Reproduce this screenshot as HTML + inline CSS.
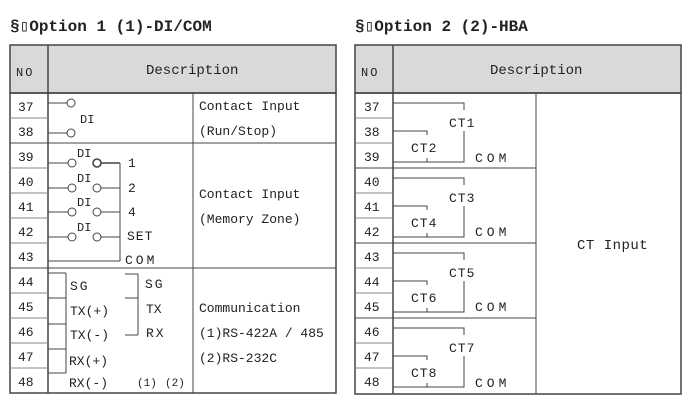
<!DOCTYPE html>
<html><head><meta charset="utf-8"><style>
html,body{margin:0;padding:0;background:#fff;}
svg{display:block;}
text{font-family:"Liberation Mono",monospace;fill:#222;}
</style></head><body>
<svg width="690" height="401" viewBox="0 0 690 401" xmlns="http://www.w3.org/2000/svg">
<g font-family="Liberation Mono" >
<text x="10" y="31" font-size="16" font-weight="bold" font-family="Liberation Mono">§▯Option 1 (1)-DI/COM</text>
<text x="355" y="31" font-size="16" font-weight="bold" font-family="Liberation Mono">§▯Option 2 (2)-HBA</text>
</g>
<!-- LEFT TABLE -->
<g stroke="#444" fill="none">
<rect x="10" y="45" width="326" height="48" fill="#d9d9d9" stroke-width="1.5"/>
<rect x="10" y="93" width="326" height="300" stroke-width="1.5"/>
<line x1="48" y1="45" x2="48" y2="393" stroke-width="1.5"/>
<line x1="193" y1="93" x2="193" y2="393"/>
<line x1="10" y1="143" x2="336" y2="143"/>
<line x1="10" y1="268" x2="336" y2="268"/>
<g stroke="#888">
<line x1="10" y1="118" x2="48" y2="118"/><line x1="10" y1="168" x2="48" y2="168"/>
<line x1="10" y1="193" x2="48" y2="193"/><line x1="10" y1="218" x2="48" y2="218"/>
<line x1="10" y1="243" x2="48" y2="243"/><line x1="10" y1="293" x2="48" y2="293"/>
<line x1="10" y1="318" x2="48" y2="318"/><line x1="10" y1="343" x2="48" y2="343"/>
<line x1="10" y1="368" x2="48" y2="368"/>
</g>
<!-- 37/38 -->
<line x1="48" y1="103" x2="67" y2="103"/><circle cx="71" cy="103" r="4"/>
<line x1="48" y1="133" x2="67" y2="133"/><circle cx="71" cy="133" r="4"/>
<!-- 39-43 -->
<line x1="48" y1="163" x2="68" y2="163"/><circle cx="72" cy="163" r="4"/><circle cx="97" cy="163" r="4" stroke-width="1.6"/><line x1="101" y1="163" x2="120" y2="163" stroke-width="1.6"/>
<line x1="48" y1="188" x2="68" y2="188"/><circle cx="72" cy="188" r="4"/><circle cx="97" cy="188" r="4"/><line x1="101" y1="188" x2="120" y2="188"/>
<line x1="48" y1="212" x2="68" y2="212"/><circle cx="72" cy="212" r="4"/><circle cx="97" cy="212" r="4"/><line x1="101" y1="212" x2="120" y2="212"/>
<line x1="48" y1="237" x2="68" y2="237"/><circle cx="72" cy="237" r="4"/><circle cx="97" cy="237" r="4"/><line x1="101" y1="237" x2="120" y2="237"/>
<line x1="120" y1="163" x2="120" y2="261"/><line x1="48" y1="261" x2="120" y2="261"/>
<!-- comm -->
<line x1="48" y1="273" x2="66" y2="273"/><line x1="48" y1="298" x2="66" y2="298"/>
<line x1="48" y1="324" x2="66" y2="324"/><line x1="48" y1="349" x2="66" y2="349"/>
<line x1="48" y1="373" x2="66" y2="373"/><line x1="66" y1="273" x2="66" y2="373"/>
<line x1="125" y1="274" x2="138" y2="274"/><line x1="125" y1="298" x2="138" y2="298"/>
<line x1="125" y1="335" x2="138" y2="335"/><line x1="138" y1="274" x2="138" y2="335"/>
</g>
<g font-size="13">
<text x="16" y="76" font-size="12" letter-spacing="2">NO</text>
<text x="146" y="74" font-size="14">Description</text>
<text x="18" y="111">37</text><text x="18" y="136">38</text><text x="18" y="161">39</text>
<text x="18" y="186">40</text><text x="18" y="211">41</text><text x="18" y="236">42</text>
<text x="18" y="261">43</text><text x="18" y="286">44</text><text x="18" y="311">45</text>
<text x="18" y="336">46</text><text x="18" y="361">47</text><text x="18" y="386">48</text>
<text x="80" y="123" font-size="12" font-family="Liberation Serif">DI</text>
<text x="77" y="157" font-size="12" font-family="Liberation Serif">DI</text>
<text x="77" y="182" font-size="12" font-family="Liberation Serif">DI</text>
<text x="77" y="206" font-size="12" font-family="Liberation Serif">DI</text>
<text x="77" y="231" font-size="12" font-family="Liberation Serif">DI</text>
<text x="128" y="167">1</text><text x="128" y="192">2</text><text x="128" y="216">4</text>
<text x="127" y="240" letter-spacing="1">SET</text><text x="125" y="264" letter-spacing="3">COM</text>
<text x="70" y="290" letter-spacing="2">SG</text><text x="70" y="315">TX(+)</text>
<text x="70" y="339">TX(-)</text><text x="69" y="365">RX(+)</text><text x="69" y="387">RX(-)</text>
<text x="145" y="288" letter-spacing="2">SG</text><text x="146" y="313">TX</text><text x="146" y="337" letter-spacing="2">RX</text>
<text x="137" y="386" font-size="11">(1)</text><text x="165" y="386" font-size="11">(2)</text>
<text x="199" y="110">Contact Input</text><text x="199" y="135">(Run/Stop)</text>
<text x="199" y="198">Contact Input</text><text x="199" y="223">(Memory Zone)</text>
<text x="199" y="312">Communication</text><text x="199" y="337">(1)RS-422A / 485</text>
<text x="199" y="362">(2)RS-232C</text>
</g>
<!-- RIGHT TABLE -->
<g stroke="#444" fill="none">
<rect x="355" y="45" width="326" height="48" fill="#d9d9d9" stroke-width="1.5"/>
<rect x="355" y="93" width="326" height="301" stroke-width="1.5"/>
<line x1="393" y1="45" x2="393" y2="394" stroke-width="1.5"/>
<line x1="536" y1="93" x2="536" y2="394"/>
<line x1="355" y1="168" x2="536" y2="168"/><line x1="355" y1="243" x2="536" y2="243"/>
<line x1="355" y1="318" x2="536" y2="318"/>
<g stroke="#888">
<line x1="355" y1="118" x2="393" y2="118"/><line x1="355" y1="143" x2="393" y2="143"/>
<line x1="355" y1="193" x2="393" y2="193"/><line x1="355" y1="218" x2="393" y2="218"/>
<line x1="355" y1="268" x2="393" y2="268"/><line x1="355" y1="293" x2="393" y2="293"/>
<line x1="355" y1="343" x2="393" y2="343"/><line x1="355" y1="368" x2="393" y2="368"/>
</g>
<path d="M393 103H464V110M464 131V162H393M393 131H427V135M427 158V162"/>
<path d="M393 178H464V185M464 206V237H393M393 206H427V210M427 233V237"/>
<path d="M393 253H464V260M464 281V312H393M393 281H427V285M427 308V312"/>
<path d="M393 328H464V335M464 356V387H393M393 356H427V360M427 383V387"/>
</g>
<g font-size="13">
<text x="361" y="76" font-size="12" letter-spacing="2">NO</text>
<text x="490" y="74" font-size="14">Description</text>
<text x="364" y="111">37</text><text x="364" y="136">38</text><text x="364" y="161">39</text>
<text x="364" y="186">40</text><text x="364" y="211">41</text><text x="364" y="236">42</text>
<text x="364" y="261">43</text><text x="364" y="286">44</text><text x="364" y="311">45</text>
<text x="364" y="336">46</text><text x="364" y="361">47</text><text x="364" y="386">48</text>
<text x="449" y="127" letter-spacing="1">CT1</text><text x="411" y="152" letter-spacing="1">CT2</text><text x="475" y="162" letter-spacing="4">COM</text>
<text x="449" y="202" letter-spacing="1">CT3</text><text x="411" y="227" letter-spacing="1">CT4</text><text x="475" y="236" letter-spacing="4">COM</text>
<text x="449" y="277" letter-spacing="1">CT5</text><text x="411" y="302" letter-spacing="1">CT6</text><text x="475" y="311" letter-spacing="4">COM</text>
<text x="449" y="352" letter-spacing="1">CT7</text><text x="411" y="377" letter-spacing="1">CT8</text><text x="475" y="387" letter-spacing="4">COM</text>
<text x="577" y="249" font-family="Liberation Serif" font-size="14" letter-spacing="0.5">CT Input</text>
</g>
</svg>
</body></html>
